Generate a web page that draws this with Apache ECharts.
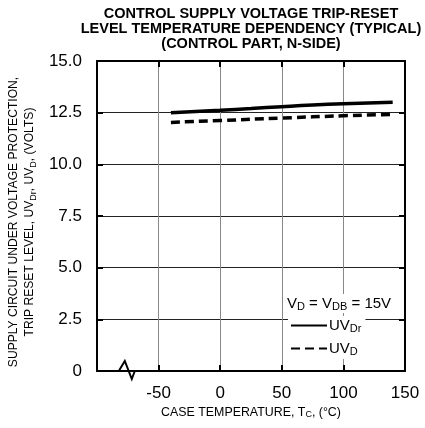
<!DOCTYPE html>
<html>
<head>
<meta charset="utf-8">
<script src="https://cdn.jsdelivr.net/npm/echarts@6/dist/echarts.min.js"></script>
<style>
    html, body { margin: 0; padding: 0; background: #fff; }
    #chart { width: 425px; height: 428px; }
</style>
</head>
<body>
<div id="chart"></div>
<script>
// 读图数据：壳温 (°C) 与复位电平 (V)
const uvdrTemps = [-40, 0, 25, 50, 75, 100, 140]
const uvdrValues = [12.5, 12.62, 12.7, 12.79, 12.87, 12.93, 13.0]
const uvdTemps = [-40, 0, 50, 100, 140]
const uvdValues = [12.03, 12.12, 12.24, 12.35, 12.42]

const xTickLabels = ["-50", "0", "50", "100", "150"]
const yTickLabels = ["0", "2.5", "5.0", "7.5", "10.0", "12.5", "15.0"]

const fontFamily = "Liberation Sans, Arial, sans-serif"
const subStyle = { fontSize: 9, verticalAlign: "bottom", fontFamily: fontFamily, color: "#000" }

const chart = echarts.init(document.getElementById("chart"))

/**
 * 横轴标签：-100 处不显示（断轴）
 */
function xLabel(value) {
    const text = String(value)
    return xTickLabels.indexOf(text) >= 0 ? text : ""
}

function yLabel(value) {
    const text = value === 0 ? "0" : Number(value).toFixed(1)
    return yTickLabels.indexOf(text) >= 0 ? text : ""
}

const frameLine = { show: true, onZero: false, lineStyle: { color: "#000", width: 2 } }
const innerTick = { show: true, inside: true, length: 6, lineStyle: { color: "#000", width: 2 } }

const option = {
    animation: false,
    backgroundColor: "#fff",
    textStyle: { fontFamily: fontFamily },
    title: {
        text: "CONTROL SUPPLY VOLTAGE TRIP-RESET\nLEVEL TEMPERATURE DEPENDENCY (TYPICAL)\n(CONTROL PART, N-SIDE)",
        left: 246,
        top: 1,
        textAlign: "center",
        textStyle: {
            fontSize: 14.5,
            fontWeight: "bold",
            lineHeight: 15,
            color: "#000",
            fontFamily: fontFamily,
        },
    },
    grid: {
        left: 97,
        right: 20,
        top: 61,
        bottom: 57,
        outerBoundsMode: "none",
    },
    legend: {
        orient: "vertical",
        left: 288,
        top: 316,
        itemWidth: 36,
        itemHeight: 14,
        itemGap: 7,
        padding: [2, 4, 2, 2],
        backgroundColor: "#fff",
        itemStyle: { opacity: 0 },
        formatter: name => (name === "UVDr" ? "UV{s|Dr}" : "UV{s|D}"),
        textStyle: {
            fontSize: 15,
            color: "#000",
            padding: [0, 0, 0, -3],
            rich: { s: { fontSize: 11, verticalAlign: "bottom", padding: [6, 0, 0, 0], color: "#000" } },
        },
        data: ["UVDr", "UVD"],
    },
    xAxis: [
        {
            type: "value",
            min: -100,
            max: 150,
            interval: 50,
            name: "CASE TEMPERATURE, T{s|C}, (°C)",
            nameLocation: "middle",
            nameGap: 35,
            nameTextStyle: { fontSize: 12.4, color: "#000", rich: { s: subStyle } },
            axisLine: frameLine,
            axisTick: innerTick,
            axisLabel: { fontSize: 17, color: "#000", margin: 14, formatter: xLabel },
            splitLine: { show: true, lineStyle: { color: "#888", width: 1 } },
        },
        {
            type: "value",
            position: "top",
            min: -100,
            max: 150,
            interval: 50,
            axisLine: frameLine,
            axisTick: innerTick,
            axisLabel: { show: false },
            splitLine: { show: false },
        },
    ],
    yAxis: [
        {
            type: "value",
            min: 0,
            max: 15,
            interval: 2.5,
            name: "SUPPLY CIRCUIT UNDER VOLTAGE PROTECTION,\nTRIP RESET LEVEL, UV{s|Dr}, UV{s|D}, (VOLTS)",
            nameLocation: "middle",
            nameGap: 33,
            nameTextStyle: {
                fontSize: 12.1,
                lineHeight: 16,
                color: "#000",
                padding: [0, 12, 0, 0],
                rich: { s: subStyle },
            },
            axisLine: frameLine,
            axisTick: innerTick,
            axisLabel: { fontSize: 17, color: "#000", margin: 15, formatter: yLabel },
            splitLine: { show: true, lineStyle: { color: "#222", width: 1 } },
        },
        {
            type: "value",
            position: "right",
            min: 0,
            max: 15,
            interval: 2.5,
            axisLine: frameLine,
            axisTick: innerTick,
            axisLabel: { show: false },
            splitLine: { show: false },
        },
    ],
    series: [
        {
            name: "UVDr",
            type: "line",
            symbol: "none",
            smooth: true,
            data: uvdrTemps.map((t, i) => [t, uvdrValues[i]]),
            lineStyle: { color: "#000", width: 3.5 },
            itemStyle: { color: "#000" },
        },
        {
            name: "UVD",
            type: "line",
            symbol: "none",
            smooth: true,
            data: uvdTemps.map((t, i) => [t, uvdValues[i]]),
            lineStyle: { color: "#000", width: 3.5, type: [9, 5] },
            itemStyle: { color: "#000" },
        },
    ],
}

chart.setOption(option)

// 条件文字与断轴符号
const breakPt = chart.convertToPixel({ xAxisIndex: 0, yAxisIndex: 0 }, [-75, 0])
chart.setOption({
    graphic: [
        {
            type: "text",
            left: 285,
            top: 294,
            style: {
                text: "V{s|D} = V{s|DB} = 15V",
                fontSize: 15,
                fontFamily: fontFamily,
                fill: "#000",
                backgroundColor: "#fff",
                padding: [1, 2, 1, 2],
                rich: { s: { fontSize: 11, verticalAlign: "bottom", padding: [6, 0, 0, 0], fill: "#000" } },
            },
            z: 100,
        },
        {
            type: "polyline",
            x: breakPt[0] - 1,
            y: breakPt[1],
            shape: { points: [[-8, 0], [-2, -10], [5, 8], [8, 0]] },
            style: { stroke: "#000", lineWidth: 2, fill: null },
            z: 100,
        },
    ],
})
</script>
</body>
</html>
